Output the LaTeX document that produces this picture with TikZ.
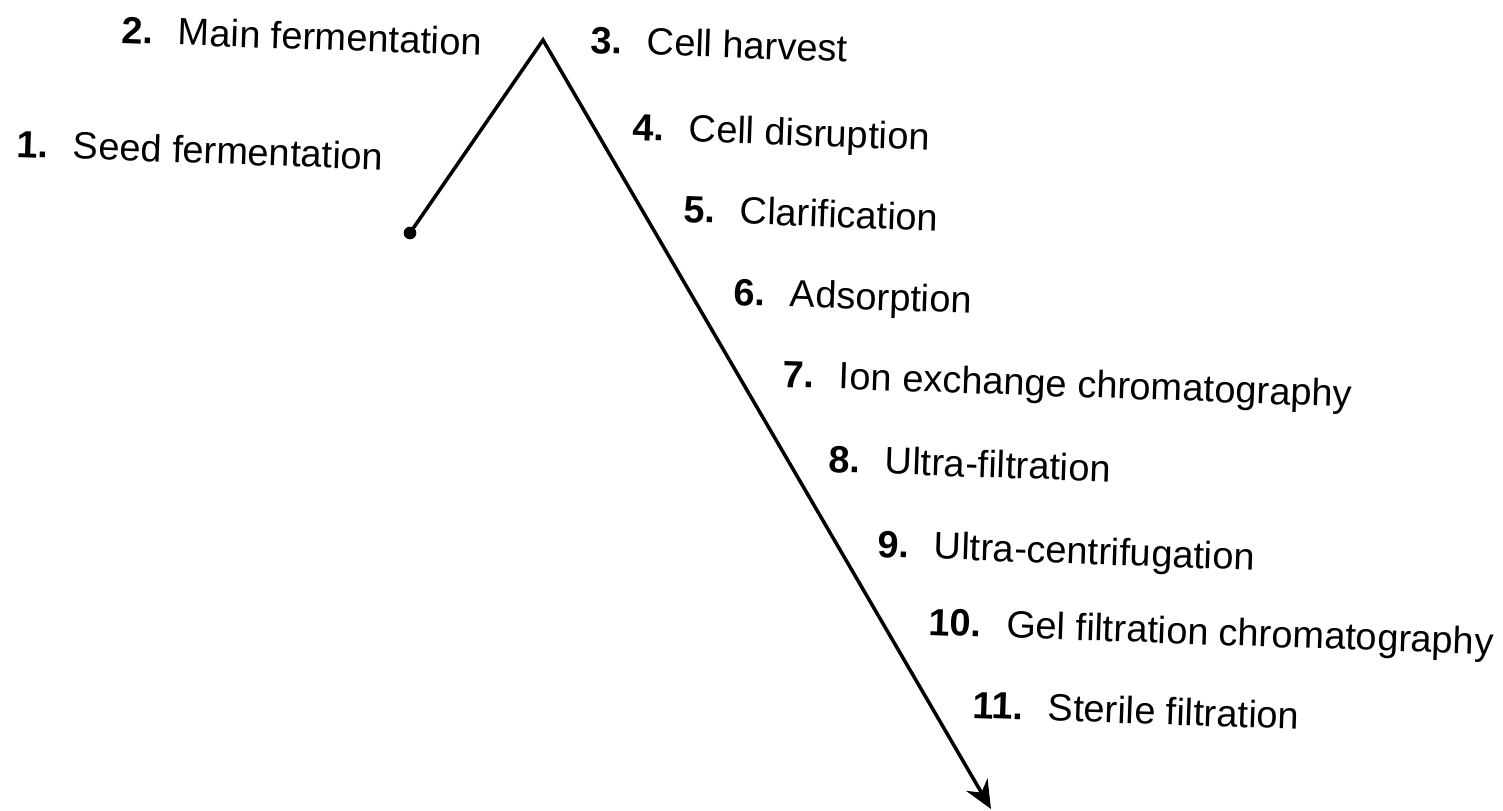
\documentclass[tikz,border=0pt]{standalone}
\usepackage{fontspec}
\setmainfont{Liberation Sans}
\usetikzlibrary{arrows.meta}

% numero en gras puis nom de l'etape
\newcommand{\etape}[2]{\textbf{#1.}\hspace{7pt}#2}

\tikzset{
  etiquette/.style={anchor=base west, inner sep=0pt, font=\fontsize{10.8}{13}\selectfont, rotate=-2},
  trajet/.style={line width=1pt, line join=miter},
}

\begin{document}
\begin{tikzpicture}[>={Stealth[length=8pt,width=7pt]}]
  \useasboundingbox (0,0) rectangle (15.03,-8.11);

  % ==========================================
  % TRAJET : MONTEE PUIS DESCENTE
  % ==========================================
  \coordinate (debut) at (4.10,-2.33);
  \coordinate (sommet) at (5.43,-0.40);
  \coordinate (fin) at (9.91,-8.09);

  % Point de depart
  \fill[black] (debut) circle (1.8pt);

  % Ligne brisee avec fleche finale
  \draw[trajet, ->] (debut) -- (sommet) -- (fin);

  % ==========================================
  % ETAPES (A GAUCHE DU SOMMET)
  % ==========================================
  \node[etiquette] (e1) at (0.16,-1.57) {\etape{1}{Seed fermentation}};
  \node[etiquette] (e2) at (1.21,-0.43) {\etape{2}{Main fermentation}};

  % ==========================================
  % ETAPES (LE LONG DE LA DESCENTE)
  % ==========================================
  \node[etiquette] (e3) at (5.90,-0.53) {\etape{3}{Cell harvest}};
  \node[etiquette] (e4) at (6.32,-1.40) {\etape{4}{Cell disruption}};
  \node[etiquette] (e5) at (6.83,-2.22) {\etape{5}{Clarification}};
  \node[etiquette] (e6) at (7.33,-3.05) {\etape{6}{Adsorption}};
  \node[etiquette] (e7) at (7.82,-3.87) {\etape{7}{Ion exchange chromatography}};
  \node[etiquette] (e8) at (8.28,-4.72) {\etape{8}{Ultra-filtration}};
  \node[etiquette] (e9) at (8.77,-5.57) {\etape{9}{Ultra-centrifugation}};
  \node[etiquette] (e10) at (9.28,-6.35) {\etape{10}{Gel filtration chromatography}};
  \node[etiquette] (e11) at (9.72,-7.18) {\etape{11}{Sterile filtration}};

\end{tikzpicture}
\end{document}
